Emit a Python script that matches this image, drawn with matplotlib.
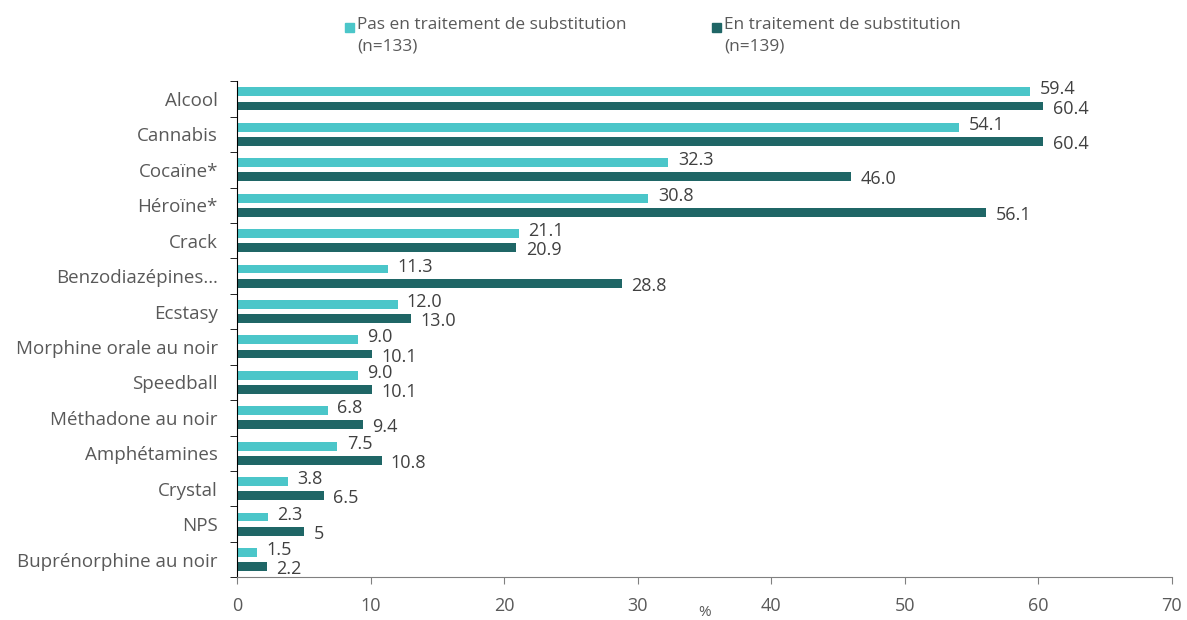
import matplotlib.pyplot as plt
import numpy as np
from matplotlib.patches import Rectangle

plt.rcParams['font.family'] = ['Open Sans', 'DejaVu Sans']

# categories, top to bottom
categories = ['Alcool', 'Cannabis', 'Cocaïne*', 'Héroïne*', 'Crack', 'Benzodiazépines…',
              'Ecstasy', 'Morphine orale au noir', 'Speedball', 'Méthadone au noir',
              'Amphétamines', 'Crystal', 'NPS', 'Buprénorphine au noir']
pas_traitement = [59.4, 54.1, 32.3, 30.8, 21.1, 11.3, 12.0, 9.0, 9.0, 6.8, 7.5, 3.8, 2.3, 1.5]
en_traitement = [60.4, 60.4, 46.0, 56.1, 20.9, 28.8, 13.0, 10.1, 10.1, 9.4, 10.8, 6.5, 5, 2.2]
pas_labels = ['59.4', '54.1', '32.3', '30.8', '21.1', '11.3', '12.0', '9.0', '9.0', '6.8', '7.5', '3.8', '2.3', '1.5']
en_labels = ['60.4', '60.4', '46.0', '56.1', '20.9', '28.8', '13.0', '10.1', '10.1', '9.4', '10.8', '6.5', '5', '2.2']
legend_labels = ['Pas en traitement de substitution\n(n=133)', 'En traitement de substitution\n(n=139)']

light = '#4BC6C9'
dark = '#1F6666'
grey = '#595959'

fig = plt.figure(figsize=(11.87, 6.2), dpi=100)
ax = fig.add_axes([0.2, 0.069, 0.787, 0.8])

y = np.arange(len(categories))
h = 0.25
off = 0.2
ax.barh(y - off, pas_traitement, height=h, color=light)
ax.barh(y + off, en_traitement, height=h, color=dark)

# value labels, nudged apart a little so the pairs don't collide
for i in range(len(categories)):
    ax.text(pas_traitement[i] + 0.7, y[i] - off - 0.07, pas_labels[i], va='center', ha='left',
            fontsize=13, color='#404040')
    ax.text(en_traitement[i] + 0.7, y[i] + off + 0.07, en_labels[i], va='center', ha='left',
            fontsize=13, color='#404040')

ax.set_ylim(len(categories) - 0.5, -0.5)
ax.set_xlim(0, 70)
ax.set_yticks(y)
ax.set_yticklabels(categories, fontsize=13.5, color=grey)
ax.set_yticks(np.arange(-0.5, len(categories), 1), minor=True)
ax.tick_params(axis='y', which='major', length=0, pad=14)
ax.tick_params(axis='y', which='minor', length=5, color='black')
ax.set_xticks(np.arange(0, 71, 10))
ax.tick_params(axis='x', length=5, color='#808080', labelsize=13, labelcolor=grey, pad=9)
ax.set_xlabel('%', fontsize=11, color=grey, labelpad=-7)

for s in ['top', 'right']:
    ax.spines[s].set_visible(False)
ax.spines['left'].set_color('black')
ax.spines['bottom'].set_color('#808080')

# legend at the top
for xpos, col, lab in [(0.2906, light, legend_labels[0]), (0.5998, dark, legend_labels[1])]:
    fig.add_artist(Rectangle((xpos, 0.948), 0.0075, 0.0145, transform=fig.transFigure, color=col))
    fig.text(xpos + 0.0101, 0.972, lab, va='top', ha='left', fontsize=12.4, color=grey,
             linespacing=1.4)

fig.savefig('out.png', dpi=100)
